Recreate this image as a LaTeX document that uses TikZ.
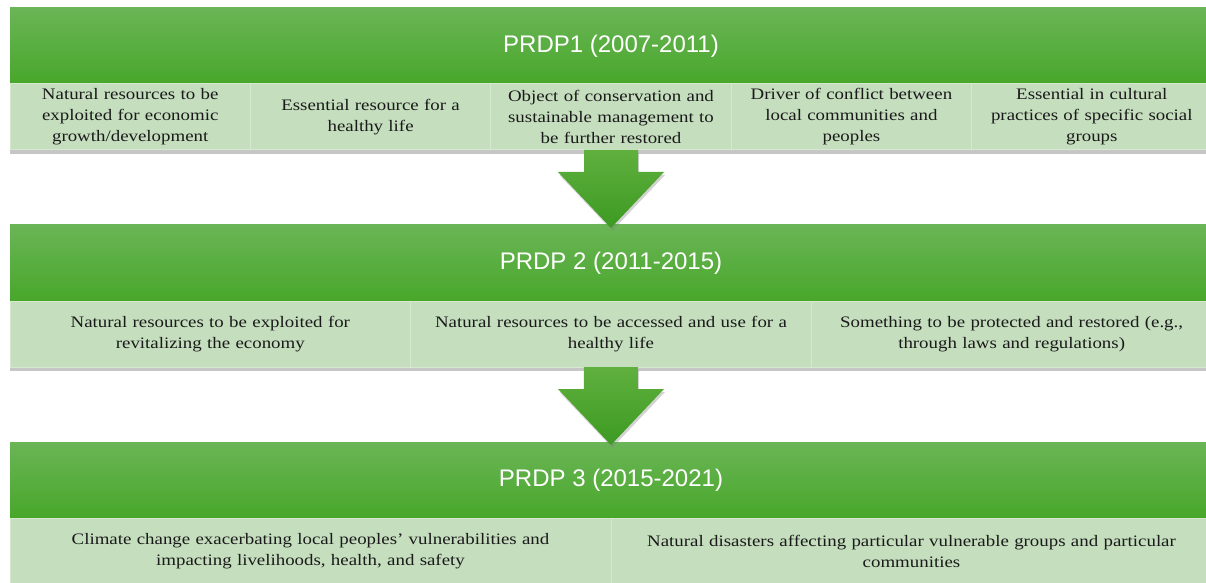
\documentclass[tikz,border=0pt]{standalone}
\usepackage{fontspec}
\setmainfont{Liberation Serif}[FakeStretch=1.18]
\newfontfamily\headfont{Liberation Sans}
\usetikzlibrary{positioning,shadows,calc}

\definecolor{headtop}{RGB}{106,181,86}
\definecolor{headbot}{RGB}{72,167,42}
\definecolor{cellfill}{RGB}{197,222,190}
\definecolor{cellline}{RGB}{214,233,208}
\definecolor{celltext}{RGB}{26,26,26}
\definecolor{flowtop}{RGB}{96,176,62}
\definecolor{flowbot}{RGB}{60,154,34}

\begin{document}
\begin{tikzpicture}[x=0.5pt,y=-0.5pt]
	\useasboundingbox (0,0) rectangle (1206,583);
	\tikzstyle{head}=[rectangle, inner sep=0pt, outer sep=0pt, anchor=north, minimum width=601pt, minimum height=38pt, top color=headtop, bottom color=headbot, text=white, font=\headfont\fontsize{12}{14}\selectfont]
	\tikzstyle{cell}=[rectangle, inner sep=2pt, outer sep=0pt, minimum height=33pt, fill=cellfill, draw=cellline, line width=0.5pt, align=center, text=celltext, font=\fontsize{8}{10.5}\selectfont, drop shadow={shadow xshift=0pt, shadow yshift=-2pt, opacity=0.45}]
	\tikzstyle{five}=[cell, minimum width=120.2pt, text width=114pt]
	\tikzstyle{three}=[cell, minimum width=200.33pt, text width=194pt]
	\tikzstyle{two}=[cell, minimum width=300.5pt, text width=294pt]
	\tikzstyle{flow}=[top color=flowtop, bottom color=flowbot, drop shadow={shadow xshift=0.6pt, shadow yshift=-1.4pt, opacity=0.35}]

	% PRDP1
	\node[head] (head1) at (611,8) {PRDP1 (2007-2011)};
	\node[five, below right=0pt and 0pt of head1.south west] (n11) {Natural resources to be\\exploited for economic\\growth/development};
	\node[five, right=0pt of n11] (n12) {Essential resource for a\\healthy life};
	\node[five, right=0pt of n12] (n13) {Object of conservation and\\sustainable management to\\be further restored};
	\node[five, right=0pt of n13] (n14) {Driver of conflict between\\local communities and\\peoples};
	\node[five, right=0pt of n14] (n15) {Essential in cultural\\practices of specific social\\groups};

	% PRDP 2
	\node[head] (head2) at (611,225) {PRDP 2 (2011-2015)};
	\node[three, below right=0pt and 0pt of head2.south west] (n21) {Natural resources to be exploited for\\revitalizing the economy};
	\node[three, right=0pt of n21] (n22) {Natural resources to be accessed and use for a\\healthy life};
	\node[three, right=0pt of n22] (n23) {Something to be protected and restored (e.g.,\\through laws and regulations)};

	% PRDP 3
	\node[head] (head3) at (611,442) {PRDP 3 (2015-2021)};
	\node[two, below right=0pt and 0pt of head3.south west] (n31) {Climate change exacerbating local peoples’ vulnerabilities and\\impacting livelihoods, health, and safety};
	\node[two, right=0pt of n31] (n32) {Natural disasters affecting particular vulnerable groups and particular\\communities};

	% block arrows between the plans
	\foreach \from/\to in {n13/head2, n22/head3}
		\path[flow] ($(\from.south)+(-27,0)$) -- ($(\from.south)+(27,0)$) -- ($(\from.south)+(27,22)$)
			-- ($(\from.south)+(53,22)$) -- ($(\to.north)+(0,3)$) -- ($(\from.south)+(-53,22)$)
			-- ($(\from.south)+(-27,22)$) -- cycle;
\end{tikzpicture}
\end{document}
